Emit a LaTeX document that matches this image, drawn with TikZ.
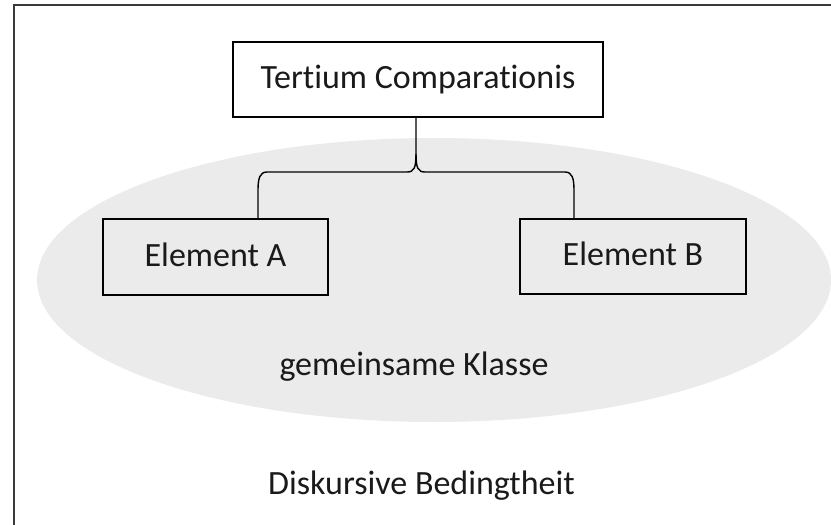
\documentclass[tikz,border=0pt]{standalone}
\usepackage{fontspec}
\setmainfont{Carlito}[Ligatures=NoCommon]
\definecolor{ellgray}{HTML}{EBEBEB}
\definecolor{framegray}{HTML}{3A3A3A}
\definecolor{txtcol}{HTML}{1A1A1A}
\begin{document}
\begin{tikzpicture}[x=1pt,y=-1pt,
  lbl/.style={font=\fontsize{34}{40}\selectfont, text=txtcol, inner sep=0pt},
  box/.style={lbl, draw=black, line width=1.7pt, text height=22pt, text depth=4pt},
  brace/.style={draw=black, line width=1.4pt},
  frame/.style={draw=framegray, line width=2pt}]
\useasboundingbox (0,0) rectangle (831,525);
\clip (0,0) rectangle (831,525);
% shared class ellipse
\fill[ellgray] (434,280) ellipse [x radius=397, y radius=142];
% outer frame (runs off the right and bottom edges)
\draw[frame] (14,5) rectangle (850,545);
% nodes
\node[box, fill=white, minimum width=370, minimum height=75] (tc) at (418,79.5) {Tertium Comparationis};
\node[box, minimum width=225, minimum height=76] (ea) at (215.5,257) {Element A};
\node[box, minimum width=226, minimum height=75] (eb) at (633,256.5) {Element B};
\node[lbl, anchor=base] (gk) at (414,375) {gemeinsame Klasse};
\node[lbl, anchor=base] (db) at (421.5,494) {Diskursive Bedingtheit};
% brace connector
\coordinate (stemtop) at (416,117);
\coordinate (stemend) at (416,154);
\coordinate (eatop) at (258,219);
\coordinate (ebtop) at (574,219);
\draw[brace] (stemtop) -- (stemend)
  .. controls (416,168) and (414,172) .. (407,172)
  -- (267,172)
  .. controls (260,172) and (258,178) .. (258,190)
  -- (eatop);
\draw[brace] (stemend)
  .. controls (416,168) and (418,172) .. (425,172)
  -- (565,172)
  .. controls (572,172) and (574,178) .. (574,190)
  -- (ebtop);
\end{tikzpicture}
\end{document}
